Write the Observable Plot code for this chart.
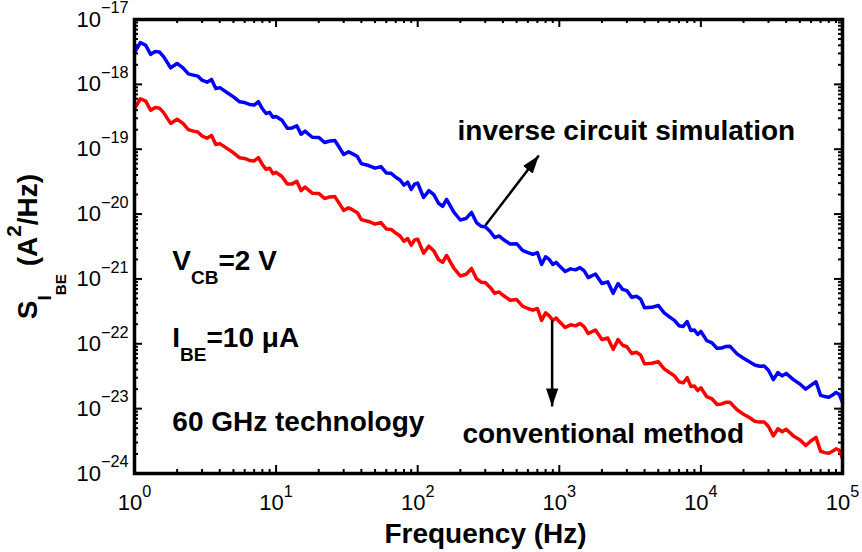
<!DOCTYPE html>
<html>
<head>
<meta charset="utf-8">
<script src="https://cdn.jsdelivr.net/npm/d3@7"></script>
<script src="https://cdn.jsdelivr.net/npm/@observablehq/plot@0.6"></script>
<style>
  html, body { margin: 0; padding: 0; background: #fff; }
  #chart { width: 862px; height: 552px; }
</style>
</head>
<body>
<div id="chart"></div>
<script>
// ---------- data ----------
const frequency = [
  1,1.1,1.2,1.3,1.4,1.5,1.6,1.8,2,2.2,2.4,2.6,2.8,3,3.25,3.5,3.75,4,4.5,5,5.5,6,6.5,7,7.5,8,8.5,9,9.5,
  10,11,12,13,14,15,16,18,20,22,24,26,28,30,32.5,35,37.5,40,45,50,55,60,65,70,75,80,85,90,95,
  100,110,120,130,140,150,160,180,200,220,240,260,280,300,325,350,375,400,450,500,550,600,650,700,750,800,850,900,950,
  1000,1100,1200,1300,1400,1500,1600,1800,2000,2200,2400,2600,2800,3000,3250,3500,3750,4000,4500,5000,5500,6000,6500,7000,7500,8000,8500,9000,9500,
  10000,11000,12000,13000,14000,15000,16000,18000,20000,22000,24000,26000,28000,30000,32500,35000,37500,40000,45000,50000,55000,60000,65000,70000,75000,80000,85000,90000,95000,
  100000
];

// inverse circuit simulation (blue), A^2/Hz
const inverseCircuit = [
  3.1e-18,4.4e-18,4.0e-18,2.9e-18,3.2e-18,3.15e-18,2.7e-18,1.8e-18,2.1e-18,1.8e-18,1.45e-18,1.39e-18,1.34e-18,1.16e-18,1.08e-18,1.19e-18,8.6e-19,8.9e-19,7.5e-19,6.4e-19,5.4e-19,5.25e-19,4.9e-19,4.8e-19,5.4e-19,4.2e-19,3.55e-19,3.7e-19,3.1e-19,
  3.2e-19,2.8e-19,2.1e-19,2.13e-19,2.3e-19,1.7e-19,1.9e-19,1.53e-19,1.52e-19,1.27e-19,1.34e-19,1.36e-19,1.06e-19,8.3e-20,9.1e-20,8.4e-20,7.7e-20,6.0e-20,5.6e-20,5.1e-20,5.4e-20,4.3e-20,4.25e-20,3.7e-20,3.35e-20,2.8e-20,3.1e-20,2.4e-20,2.9e-20,
  3.0e-20,1.8e-20,2.3e-20,2.0e-20,1.48e-20,1.31e-20,1.68e-20,1.07e-20,8.1e-21,8.6e-21,1.06e-20,7.4e-21,6.5e-21,6.4e-21,5.4e-21,4.35e-21,4.6e-21,4.1e-21,3.45e-21,3.5e-21,2.75e-21,2.55e-21,2.4e-21,2.55e-21,1.67e-21,2.2e-21,2.0e-21,1.67e-21,1.8e-21,
  1.6e-21,1.3e-21,1.43e-21,1.38e-21,1.5e-21,1.33e-21,1.05e-21,1.19e-21,8.5e-22,9.0e-22,6.0e-22,8.5e-22,6.9e-22,6.6e-22,5.2e-22,5.4e-22,4.9e-22,3.6e-22,3.65e-22,3.9e-22,3.0e-22,2.6e-22,2.3e-22,1.9e-22,1.85e-22,2.2e-22,1.6e-22,1.63e-22,1.39e-22,
  1.55e-22,1.12e-22,1.03e-22,8.5e-23,8.6e-23,9.1e-23,9.2e-23,7.0e-23,6.0e-23,5.3e-23,4.7e-23,4.5e-23,4.55e-23,3.9e-23,2.8e-23,3.6e-23,3.2e-23,3.5e-23,2.8e-23,2.4e-23,2.0e-23,2.3e-23,2.6e-23,1.6e-23,1.54e-23,1.5e-23,1.62e-23,1.78e-23,1.65e-23,
  1.25e-23
];

// conventional method (red), A^2/Hz
const conventional = [
  4.2e-19,6.0e-19,5.5e-19,4.0e-19,4.4e-19,4.3e-19,3.7e-19,2.5e-19,2.9e-19,2.5e-19,2.0e-19,1.9e-19,1.84e-19,1.6e-19,1.48e-19,1.63e-19,1.18e-19,1.22e-19,1.03e-19,8.8e-20,7.4e-20,7.2e-20,6.7e-20,6.6e-20,7.4e-20,5.8e-20,4.9e-20,5.1e-20,4.2e-20,
  4.4e-20,3.8e-20,2.9e-20,2.92e-20,3.2e-20,2.3e-20,2.6e-20,2.1e-20,2.08e-20,1.74e-20,1.84e-20,1.86e-20,1.45e-20,1.14e-20,1.25e-20,1.15e-20,1.05e-20,8.2e-21,7.7e-21,7.0e-21,7.4e-21,5.9e-21,5.8e-21,5.1e-21,4.6e-21,3.8e-21,4.2e-21,3.3e-21,4.0e-21,
  4.1e-21,2.5e-21,3.2e-21,2.7e-21,2.0e-21,1.8e-21,2.3e-21,1.47e-21,1.11e-21,1.18e-21,1.45e-21,1.01e-21,8.9e-22,8.8e-22,7.4e-22,6.0e-22,6.3e-22,5.6e-22,4.7e-22,4.8e-22,3.8e-22,3.5e-22,3.3e-22,3.5e-22,2.3e-22,3.0e-22,2.7e-22,2.3e-22,2.5e-22,
  2.2e-22,1.78e-22,1.96e-22,1.89e-22,2.06e-22,1.82e-22,1.44e-22,1.63e-22,1.16e-22,1.23e-22,8.2e-23,1.16e-22,9.5e-23,9.0e-23,7.1e-23,7.4e-23,6.7e-23,4.9e-23,5.0e-23,5.3e-23,4.1e-23,3.6e-23,3.2e-23,2.6e-23,2.5e-23,3.0e-23,2.2e-23,2.23e-23,1.9e-23,
  2.1e-23,1.53e-23,1.41e-23,1.16e-23,1.18e-23,1.25e-23,1.26e-23,9.6e-24,8.2e-24,7.3e-24,6.4e-24,6.2e-24,6.25e-24,5.3e-24,3.8e-24,4.9e-24,4.4e-24,4.8e-24,3.8e-24,3.3e-24,2.7e-24,3.2e-24,3.6e-24,2.2e-24,2.1e-24,2.05e-24,2.2e-24,2.4e-24,2.3e-24,
  1.7e-24
];

const xMajorTicks = [1, 10, 100, 1000, 10000, 100000];
const yMajorTicks = [1e-24, 1e-23, 1e-22, 1e-21, 1e-20, 1e-19, 1e-18, 1e-17];
const minorMantissas = [2, 3, 4, 5, 6, 7, 8, 9];

// annotations (data coordinates)
const noteText = ["inverse circuit simulation", "conventional method", "V_{CB}=2 V", "I_{BE}=10 \u03bcA", "60 GHz technology"];
const noteFreq = [191, 207, 1.85, 1.85, 1.85];
const noteLevel = [1.41e-19, 3.0e-24, 1.35e-21, 8.8e-23, 4.6e-24];

const arrowFromFreq = [301, 890];
const arrowFromLevel = [6.7e-21, 2.29e-22];
const arrowToFreq = [717, 890];
const arrowToLevel = [8.0e-20, 1.08e-23];

const xLabel = "Frequency (Hz)";
const yLabel = "S_{I_{BE}} (A^{2}/Hz)";

// ---------- derived tables ----------
const blueRows = frequency.map((f, i) => ({f, s: inverseCircuit[i]}));
const redRows = frequency.map((f, i) => ({f, s: conventional[i]}));
const xMinorTicks = xMajorTicks.slice(0, -1).flatMap(d => minorMantissas.map(m => m * d));
const yMinorTicks = yMajorTicks.slice(0, -1).flatMap(d => minorMantissas.map(m => m * d));
const arrows = arrowFromFreq.map((f, i) => ({x1: f, y1: arrowFromLevel[i], x2: arrowToFreq[i], y2: arrowToLevel[i]}));

const powFmt = d => {
  const e = Math.round(Math.log10(d));
  return "10^{" + (e < 0 ? "\u2212" + (-e) : String(e)) + "}";
};

const innerW = 862 - 134 - 20;
const innerH = 552 - 19 - 79;
const majorLen = 8, minorLen = 4;
const tickStyle = {stroke: "black", strokeWidth: 2};
const boldText = {fontSize: 28, fontWeight: "bold", fill: "black"};

const chart = Plot.plot({
  width: 862,
  height: 552,
  marginLeft: 134,
  marginRight: 20,
  marginTop: 19,
  marginBottom: 79,
  style: {
    fontFamily: "'Liberation Sans', Arial, Helvetica, sans-serif",
    fontSize: "22px",
    background: "white",
    color: "black",
    overflow: "visible"
  },
  x: {type: "log", domain: [1, 1e5], ticks: xMajorTicks, tickFormat: powFmt, tickSize: 0, tickPadding: 21, label: null},
  y: {type: "log", domain: [1e-24, 1e-17], ticks: yMajorTicks, tickFormat: powFmt, tickSize: 0, tickPadding: 6, label: null},
  marks: [
    // inward ticks on all four sides
    Plot.tickX(xMajorTicks, {x: d => d, insetTop: innerH - majorLen, ...tickStyle}),
    Plot.tickX(xMajorTicks, {x: d => d, insetBottom: innerH - majorLen, ...tickStyle}),
    Plot.tickX(xMinorTicks, {x: d => d, insetTop: innerH - minorLen, ...tickStyle}),
    Plot.tickX(xMinorTicks, {x: d => d, insetBottom: innerH - minorLen, ...tickStyle}),
    Plot.tickY(yMajorTicks, {y: d => d, insetRight: innerW - majorLen, ...tickStyle}),
    Plot.tickY(yMajorTicks, {y: d => d, insetLeft: innerW - majorLen, ...tickStyle}),
    Plot.tickY(yMinorTicks, {y: d => d, insetRight: innerW - minorLen, ...tickStyle}),
    Plot.tickY(yMinorTicks, {y: d => d, insetLeft: innerW - minorLen, ...tickStyle}),
    // series
    Plot.line(blueRows, {x: "f", y: "s", stroke: "#0000ff", strokeWidth: 3.5, strokeLinejoin: "round", strokeLinecap: "round"}),
    Plot.line(redRows, {x: "f", y: "s", stroke: "#ff0000", strokeWidth: 3.5, strokeLinejoin: "round", strokeLinecap: "round"}),
    Plot.frame({stroke: "black", strokeWidth: 3.5}),
    // arrows
    Plot.link(arrows, {x1: "x1", y1: "y1", x2: "x2", y2: "y2", stroke: "black", strokeWidth: 2.5, markerEnd: "arrow"}),
    // annotations
    Plot.text(noteText, {x: noteFreq, y: noteLevel, text: d => d, textAnchor: "start", lineAnchor: "bottom", ...boldText}),
    // axis titles
    Plot.text([xLabel], {frameAnchor: "bottom", text: d => d, textAnchor: "middle", dx: -3, dy: 69, lineAnchor: "bottom", ...boldText}),
    Plot.text([yLabel], {frameAnchor: "left", text: d => d, textAnchor: "middle", rotate: -90, dx: -106, lineAnchor: "middle", ...boldText})
  ]
});

document.getElementById("chart").appendChild(chart);

// ---------- post-processing: sub/superscripts and filled arrow heads ----------
const svgNS = "http://www.w3.org/2000/svg";
function richify(el) {
  const raw = el.textContent;
  if (!/[_^]\{/.test(raw)) return;
  const base = parseFloat(getComputedStyle(el).fontSize) || 22;
  el.textContent = "";
  let cur = 0;
  const add = (t, fs, shift) => {
    const ts = document.createElementNS(svgNS, "tspan");
    ts.setAttribute("font-size", fs.toFixed(1));
    ts.setAttribute("dy", (shift - cur).toFixed(1));
    cur = shift;
    ts.textContent = t;
    el.appendChild(ts);
  };
  const parse = (s, fs, shift, depth) => {
    let buf = "", i = 0;
    while (i < s.length) {
      const c = s[i];
      if ((c === "_" || c === "^") && s[i + 1] === "{") {
        if (buf) { add(buf, fs, shift); buf = ""; }
        let level = 0, j = i + 1;
        for (; j < s.length; j++) {
          if (s[j] === "{") level++;
          else if (s[j] === "}" && --level === 0) break;
        }
        let nfs, nshift;
        if (c === "^") { nfs = fs * 0.74; nshift = shift - 0.6 * fs; }
        else if (depth === 0) { nfs = fs * 0.68; nshift = shift + 0.5 * fs; }
        else { nfs = fs * 0.8; nshift = shift + 0.75 * fs; }
        parse(s.slice(i + 2, j), nfs, nshift, depth + 1);
        i = j + 1;
      } else { buf += c; i++; }
    }
    if (buf) add(buf, fs, shift);
  };
  parse(raw, base, 0, 0);
}
const svg = document.querySelector("#chart svg");
svg.querySelectorAll("text").forEach(richify);

svg.querySelectorAll("marker").forEach(m => {
  m.setAttribute("viewBox", "-10 -5 10 10");
  m.setAttribute("markerUnits", "userSpaceOnUse");
  m.setAttribute("markerWidth", 18);
  m.setAttribute("markerHeight", 18);
  m.setAttribute("refX", 0);
  m.setAttribute("refY", 0);
  m.setAttribute("fill", "black");
  m.setAttribute("stroke", "none");
  while (m.firstChild) m.removeChild(m.firstChild);
  const p = document.createElementNS(svgNS, "path");
  p.setAttribute("d", "M-10,-3.4L0,0L-10,3.4Z");
  m.appendChild(p);
});
</script>
</body>
</html>
